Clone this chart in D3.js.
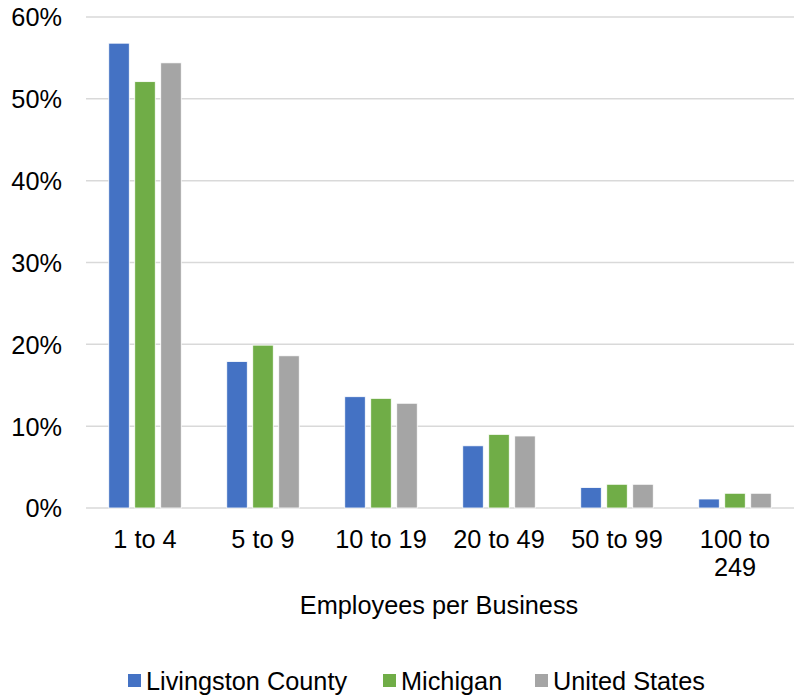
<!DOCTYPE html>
<html><head><meta charset="utf-8">
<script src="https://cdn.jsdelivr.net/npm/d3@7"></script>
<style>body{margin:0;background:#fff}svg{display:block;font-family:"Liberation Sans",Arial,sans-serif}</style>
</head><body><svg id="c" width="794" height="698"></svg>
<script>
const categories = ["1 to 4","5 to 9","10 to 19","20 to 49","50 to 99","100 to 249"];
const seriesNames = ["Livingston County","Michigan","United States"];
const livingston = [56.8,17.9,13.6,7.6,2.5,1.1];
const michigan = [52.1,19.9,13.4,9.0,2.9,1.8];
const unitedStates = [54.4,18.6,12.8,8.8,2.9,1.8];
const yTicks = [0,10,20,30,40,50,60];
const colors = ["#4472C4","#70AD47","#A5A5A5"];
const seriesVals = [livingston, michigan, unitedStates];

const FS = 25.3;
const svg = d3.select("#c");
const pLeft = 86, pRight = 794, pTop = 17, pBottom = 508;
const x0 = d3.scaleBand().domain(categories).range([pLeft,pRight]).padding(0);
const x1 = d3.scaleBand().domain(seriesNames).range([-36.25,36.25]).paddingInner(0.21).paddingOuter(0);
const y = d3.scaleLinear().domain([0,60]).range([pBottom,pTop]);

// grid
svg.append("g").selectAll("line").data(yTicks).join("line")
  .attr("x1",pLeft).attr("x2",pRight)
  .attr("y1",d=>y(d)).attr("y2",d=>y(d))
  .attr("stroke","#d9d9d9").attr("stroke-width",1.5);

// y axis labels
const yAxis = d3.axisLeft(y).tickValues(yTicks).tickFormat(d=>d+"%").tickSize(0).tickPadding(0);
const ga = svg.append("g").attr("transform","translate(62,0)").call(yAxis);
ga.select(".domain").remove();
ga.selectAll("text").attr("font-size",FS).attr("fill","#000").attr("font-family","Liberation Sans, Arial, sans-serif").attr("dy","0.35em");

// bars
const groups = svg.append("g").selectAll("g").data(categories).join("g")
  .attr("transform",d=>`translate(${x0(d)+x0.bandwidth()/2},0)`);
groups.selectAll("rect").data((c,i)=>seriesNames.map((s,j)=>({s,j,v:seriesVals[j][i]}))).join("rect")
  .attr("x",d=>x1(d.s)).attr("width",x1.bandwidth())
  .attr("y",d=>y(d.v)).attr("height",d=>y(0)-y(d.v))
  .attr("fill",d=>colors[d.j]).attr("stroke","#fff").attr("stroke-width",0.8);

// x labels
const xl = svg.append("g").selectAll("text").data(categories).join("text")
  .attr("x",d=>x0(d)+x0.bandwidth()/2).attr("y",548)
  .attr("text-anchor","middle").attr("font-size",FS).attr("fill","#000");
xl.each(function(d){
  const t = d3.select(this);
  const parts = d==="100 to 249" ? ["100 to","249"] : [d];
  parts.forEach((p,i)=>t.append("tspan").attr("x",x0(d)+x0.bandwidth()/2).attr("dy",i?28:0).text(p));
});

// axis title
svg.append("text").attr("x",439).attr("y",614).attr("text-anchor","middle")
  .attr("font-size",FS).attr("fill","#000").text("Employees per Business");

// legend
const legX = [128,383,535];
const lg = svg.append("g").selectAll("g").data(seriesNames).join("g")
  .attr("transform",(d,i)=>`translate(${legX[i]},0)`);
lg.append("rect").attr("x",0).attr("y",674).attr("width",13).attr("height",13).attr("fill",(d,i)=>colors[i]);
lg.append("text").attr("x",18).attr("y",690).attr("font-size",FS).attr("fill","#000").text(d=>d);
</script></body></html>
